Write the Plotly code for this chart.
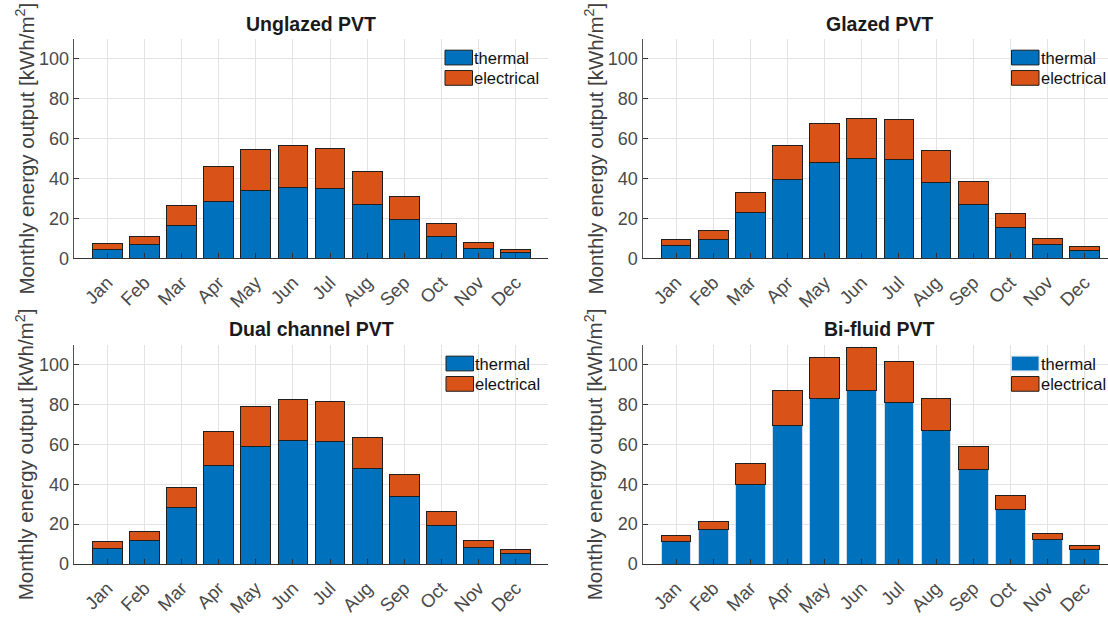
import plotly.graph_objects as go

months = ["Jan", "Feb", "Mar", "Apr", "May", "Jun", "Jul", "Aug", "Sep", "Oct", "Nov", "Dec"]
panel_titles = ["Unglazed PVT", "Glazed PVT", "Dual channel PVT", "Bi-fluid PVT"]
series_names = ["thermal", "electrical"]
y_ticks = [0, 20, 40, 60, 80, 100]

unglazed_thermal = [4.6, 7.0, 16.4, 28.7, 34.1, 35.7, 34.9, 27.2, 19.7, 11.0, 4.9, 2.8]
unglazed_electrical = [2.9, 4.1, 10.0, 17.2, 20.2, 20.9, 20.3, 16.1, 11.4, 6.7, 3.0, 1.8]

glazed_thermal = [6.6, 9.5, 22.8, 39.5, 47.9, 49.8, 49.3, 38.2, 27.2, 15.6, 7.0, 4.1]
glazed_electrical = [2.7, 4.3, 10.2, 16.9, 19.6, 20.4, 20.2, 15.6, 11.2, 6.7, 2.8, 2.0]

dual_thermal = [8.0, 12.0, 28.4, 49.3, 59.1, 62.1, 61.2, 47.8, 33.7, 19.2, 8.5, 5.3]
dual_electrical = [3.2, 4.4, 10.0, 17.0, 20.0, 20.5, 20.1, 15.6, 11.1, 6.9, 3.2, 1.9]

bifluid_thermal = [11.5, 17.1, 40.1, 69.5, 82.9, 87.2, 80.8, 67.0, 47.6, 27.3, 12.3, 7.4]
bifluid_electrical = [2.8, 4.1, 10.1, 17.5, 20.7, 21.2, 20.5, 16.1, 11.4, 6.9, 3.0, 1.8]

panels = [
    (unglazed_thermal, unglazed_electrical),
    (glazed_thermal, glazed_electrical),
    (dual_thermal, dual_electrical),
    (bifluid_thermal, bifluid_electrical),
]

W, H = 1108, 617
C_TH = "#0072BD"
C_EL = "#D95319"
EDGE = "#1f1f1f"
FONT = "Liberation Sans, Arial, Helvetica, sans-serif"

# pixel geometry of each axes box: (left, right, top, bottom)
boxes = [
    (73.7, 548.3, 39.3, 262.7),
    (642.5, 1108.0, 39.3, 262.7),
    (73.7, 548.3, 350.3, 573.3),
    (642.5, 1108.0, 350.3, 573.3),
]
xranges = [[-0.905, 11.877], [-0.905, 11.63], [-0.905, 11.877], [-0.905, 11.63]]
title_cx = [311.0, 879.5, 311.0, 879.5]
title_cy = [24.0, 24.0, 334.5, 334.5]
ytitle_cx = [25.0, 594.0, 25.0, 594.0]
legend_left = [445.0, 1011.5, 446.0, 1011.5]


def px(x):
    return x / W


def py(y):
    return 1 - y / H


fig = go.Figure()
shapes = []
annotations = []

for i, (th, el) in enumerate(panels):
    n = i + 1
    xa = "x" if n == 1 else f"x{n}"
    ya = "y" if n == 1 else f"y{n}"
    th_edge = "#cfdbe8" if i == 3 else EDGE
    fig.add_trace(go.Bar(x=months, y=th, name=series_names[0], marker=dict(color=C_TH, line=dict(color=th_edge, width=1)),
                         width=0.8, xaxis=xa, yaxis=ya, showlegend=False))
    fig.add_trace(go.Bar(x=months, y=el, name=series_names[1], marker=dict(color=C_EL, line=dict(color=EDGE, width=1)),
                         width=0.8, xaxis=xa, yaxis=ya, showlegend=False))

    l, r, t, b = boxes[i]
    xkey = "xaxis" if n == 1 else f"xaxis{n}"
    ykey = "yaxis" if n == 1 else f"yaxis{n}"
    fig.layout[xkey] = dict(
        domain=[px(l), px(r)], anchor=ya, type="category", range=xranges[i],
        showgrid=True, gridcolor="#e3e3e3", gridwidth=1,
        showline=True, linecolor="#333333", linewidth=1.3,
        ticks="inside", ticklen=5, tickcolor="#333333", tickwidth=1,
        tickangle=-45, tickfont=dict(family=FONT, size=18.5, color="#4a4a4a"),
        ticklabelstandoff=5,
        zeroline=False, fixedrange=True,
    )
    fig.layout[ykey] = dict(
        domain=[py(b), py(t)], anchor=xa, range=[0, 110], tickvals=y_ticks,
        showgrid=True, gridcolor="#e3e3e3", gridwidth=1,
        showline=True, linecolor="#555555", linewidth=1.3,
        ticks="inside", ticklen=5, tickcolor="#333333", tickwidth=1,
        tickfont=dict(family=FONT, size=18, color="#4a4a4a"),
        zeroline=False, fixedrange=True,
    )

    annotations.append(dict(
        x=px(title_cx[i]), y=py(title_cy[i]), xref="paper", yref="paper",
        xanchor="center", yanchor="middle", showarrow=False,
        text=f"<b>{panel_titles[i]}</b>", font=dict(family=FONT, size=19.5, color="#1a1a1a"),
    ))
    annotations.append(dict(
        x=px(ytitle_cx[i]), y=py((t + b) / 2), xref="paper", yref="paper",
        xanchor="center", yanchor="middle", showarrow=False, textangle=-90,
        text="Monthly energy output [kWh/m<sup>2</sup>]",
        font=dict(family=FONT, size=20.5, color="#404040"),
    ))

    # legend
    lx = legend_left[i]
    for k, (name, col) in enumerate(zip(series_names, [C_TH, C_EL])):
        top = t + 11.7 + k * 20.7
        bot = top + 15
        lc = "#cfdbe8" if (i == 3 and k == 0) else EDGE
        shapes.append(dict(type="rect", xref="paper", yref="paper",
                           x0=px(lx), x1=px(lx + 27.5), y0=py(bot), y1=py(top),
                           fillcolor=col, line=dict(color=lc, width=1), layer="above"))
        annotations.append(dict(
            x=px(lx + 27.0), y=py((top + bot) / 2), xref="paper", yref="paper",
            xanchor="left", yanchor="middle", showarrow=False, text=name,
            font=dict(family=FONT, size=16.5, color="#111111"),
        ))

fig.update_layout(
    width=W, height=H, margin=dict(l=0, r=0, t=0, b=0),
    paper_bgcolor="white", plot_bgcolor="white",
    barmode="stack", bargap=0.2, showlegend=False,
    shapes=shapes, annotations=annotations,
    font=dict(family=FONT),
)

fig.write_html("out.html", config={"displayModeBar": False})
